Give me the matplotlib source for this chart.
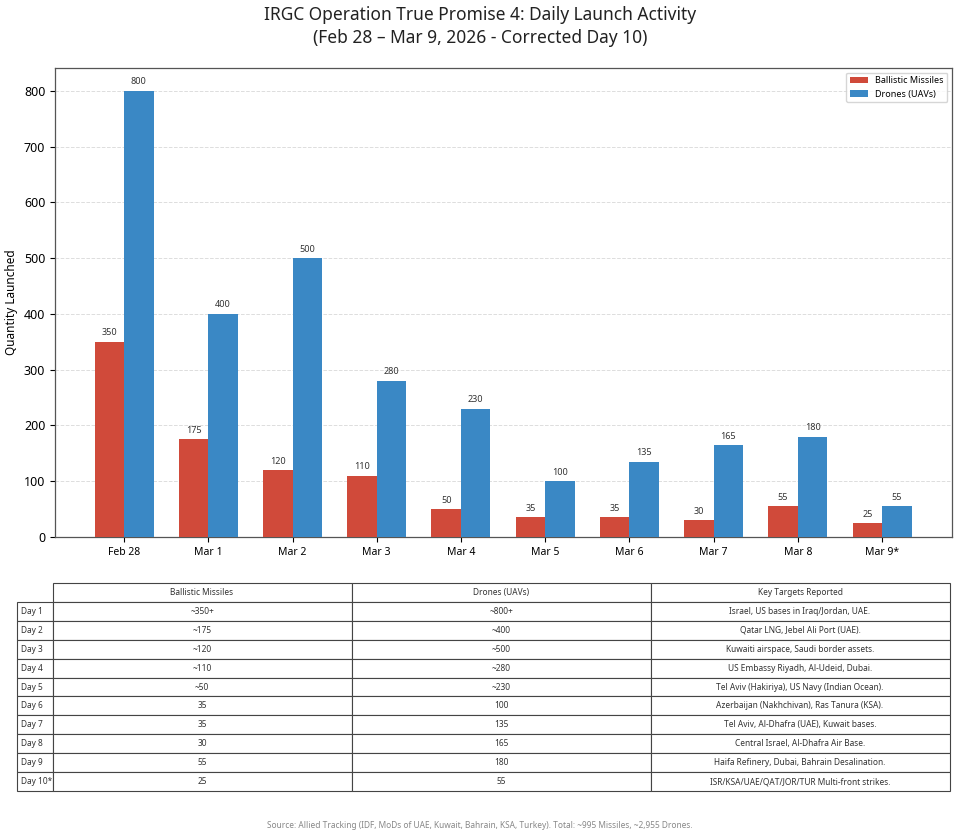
import matplotlib
matplotlib.use("Agg")
import matplotlib.pyplot as plt
import numpy as np

plt.rcParams['font.family'] = ['Noto Sans', 'DejaVu Sans']

dates = ["Feb 28", "Mar 1", "Mar 2", "Mar 3", "Mar 4", "Mar 5", "Mar 6", "Mar 7", "Mar 8", "Mar 9*"]
missiles = [350, 175, 120, 110, 50, 35, 35, 30, 55, 25]
drones = [800, 400, 500, 280, 230, 100, 135, 165, 180, 55]

row_labels = ["Day 1", "Day 2", "Day 3", "Day 4", "Day 5", "Day 6", "Day 7", "Day 8", "Day 9", "Day 10*"]
col_labels = ["Ballistic Missiles", "Drones (UAVs)", "Key Targets Reported"]
tbl_missiles = ["~350+", "~175", "~120", "~110", "~50", "35", "35", "30", "55", "25"]
tbl_drones = ["~800+", "~400", "~500", "~280", "~230", "100", "135", "165", "180", "55"]
targets = [
    "Israel, US bases in Iraq/Jordan, UAE.",
    "Qatar LNG, Jebel Ali Port (UAE).",
    "Kuwaiti airspace, Saudi border assets.",
    "US Embassy Riyadh, Al-Udeid, Dubai.",
    "Tel Aviv (Hakiriya), US Navy (Indian Ocean).",
    "Azerbaijan (Nakhchivan), Ras Tanura (KSA).",
    "Tel Aviv, Al-Dhafra (UAE), Kuwait bases.",
    "Central Israel, Al-Dhafra Air Base.",
    "Haifa Refinery, Dubai, Bahrain Desalination.",
    "ISR/KSA/UAE/QAT/JOR/TUR Multi-front strikes.",
]

red = "#d04a3a"
blue = "#3a88c5"

W, H = 960, 839
fig = plt.figure(figsize=(W / 100, H / 100), dpi=100)

ax = fig.add_axes([55 / W, 1 - 537 / H, (952 - 55) / W, (537 - 68) / H])
x = np.arange(len(dates))
w = 0.35
b1 = ax.bar(x - w / 2, missiles, w, color=red, label="Ballistic Missiles", zorder=3)
b2 = ax.bar(x + w / 2, drones, w, color=blue, label="Drones (UAVs)", zorder=3)
for rect, v in zip(b1, missiles):
    ax.text(rect.get_x() + rect.get_width() / 2, v + 8, str(v), ha="center", va="bottom", fontsize=6.5, color="#333333")
for rect, v in zip(b2, drones):
    ax.text(rect.get_x() + rect.get_width() / 2, v + 8, str(v), ha="center", va="bottom", fontsize=6.5, color="#333333")

ax.set_xlim(-0.82, 9.83)
ax.set_ylim(0, 841)
ax.set_xticks(x)
ax.set_xticklabels(dates, fontsize=7.5)
ax.set_yticks(range(0, 801, 100))
ax.tick_params(axis='y', labelsize=9)
ax.set_ylabel("Quantity Launched", fontsize=8.5)
ax.yaxis.grid(True, linestyle="--", color="#dddddd", linewidth=0.7, zorder=0)
for s in ax.spines.values():
    s.set_color("#555555")
    s.set_linewidth(0.9)
leg = ax.legend(loc="upper right", fontsize=6.5, frameon=True, fancybox=True, edgecolor="#cccccc")

fig.text(0.5, 1 - 15 / H, "IRGC Operation True Promise 4: Daily Launch Activity", ha="center", va="center", fontsize=12.5, color="#222222")
fig.text(0.5, 1 - 38 / H, "(Feb 28 \u2013 Mar 9, 2026 - Corrected Day 10)", ha="center", va="center", fontsize=12.5, color="#222222")

cell_text = [[a, b, c] for a, b, c in zip(tbl_missiles, tbl_drones, targets)]
tax = fig.add_axes([0, 0, 1, 1])
tax.axis("off")
tbl = tax.table(cellText=cell_text, rowLabels=row_labels, colLabels=col_labels,
                cellLoc="center", rowLoc="left",
                bbox=[55 / W, 1 - 791 / H, (952 - 55) / W, (791 - 583) / H])
tbl.auto_set_font_size(False)
tbl.set_fontsize(6)
for (r, c), cell in tbl.get_celld().items():
    cell.set_edgecolor("#444444")
    cell.set_linewidth(0.8)
    cell.get_text().set_color("#333333")
# row label widths
for (r, c), cell in tbl.get_celld().items():
    if c == -1:
        cell.set_width(40 / W)

fig.text(0.5, 1 - 826 / H, "Source: Allied Tracking (IDF, MoDs of UAE, Kuwait, Bahrain, KSA, Turkey). Total: ~995 Missiles, ~2,955 Drones.",
         ha="center", va="center", fontsize=6, color="#888888")

fig.savefig("out.png", dpi=100)
